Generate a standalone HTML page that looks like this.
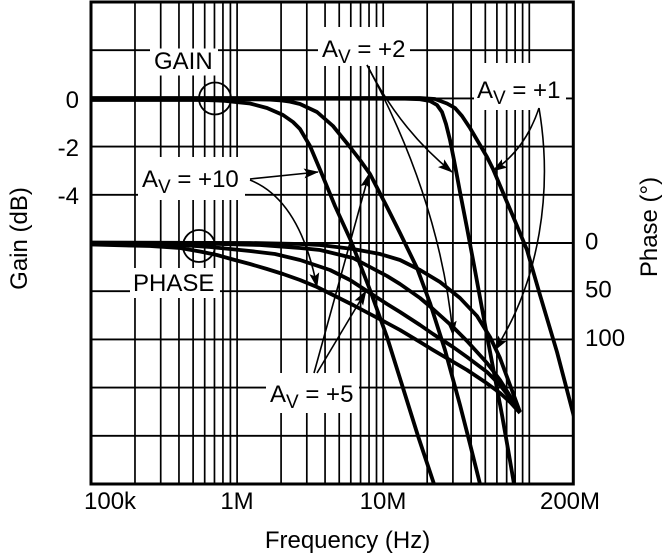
<!DOCTYPE html>
<html>
<head>
<meta charset="utf-8">
<style>
html,body{margin:0;padding:0;background:#fff;overflow:hidden;}
svg{display:block;}
text{font-family:"Liberation Sans",Arial,sans-serif;fill:#000;}
</style>
</head>
<body>
<svg width="666" height="556" viewBox="0 0 666 556" xmlns="http://www.w3.org/2000/svg">
<defs>
<marker id="ah" markerWidth="15" markerHeight="10" refX="14" refY="5" orient="auto" markerUnits="userSpaceOnUse">
<path d="M0,0 L15,5 L0,10 L3,5 z" fill="#000"/>
</marker>
<clipPath id="pc"><rect x="91" y="2" width="482.3" height="482"/></clipPath>
</defs>
<rect width="666" height="556" fill="#fff"/>

<!-- vertical grid -->
<g stroke="#000" stroke-width="1.7">
<line x1="134.98" y1="2" x2="134.98" y2="484"/>
<line x1="160.71" y1="2" x2="160.71" y2="484"/>
<line x1="178.96" y1="2" x2="178.96" y2="484"/>
<line x1="193.12" y1="2" x2="193.12" y2="484"/>
<line x1="204.69" y1="2" x2="204.69" y2="484"/>
<line x1="214.47" y1="2" x2="214.47" y2="484"/>
<line x1="222.94" y1="2" x2="222.94" y2="484"/>
<line x1="230.41" y1="2" x2="230.41" y2="484"/>
<line x1="237.1" y1="2" x2="237.1" y2="484"/>
<line x1="281.08" y1="2" x2="281.08" y2="484"/>
<line x1="306.81" y1="2" x2="306.81" y2="484"/>
<line x1="325.06" y1="2" x2="325.06" y2="484"/>
<line x1="339.22" y1="2" x2="339.22" y2="484"/>
<line x1="350.79" y1="2" x2="350.79" y2="484"/>
<line x1="360.57" y1="2" x2="360.57" y2="484"/>
<line x1="369.04" y1="2" x2="369.04" y2="484"/>
<line x1="376.51" y1="2" x2="376.51" y2="484"/>
<line x1="383.2" y1="2" x2="383.2" y2="484"/>
<line x1="427.18" y1="2" x2="427.18" y2="484"/>
<line x1="452.91" y1="2" x2="452.91" y2="484"/>
<line x1="471.16" y1="2" x2="471.16" y2="484"/>
<line x1="485.32" y1="2" x2="485.32" y2="484"/>
<line x1="496.89" y1="2" x2="496.89" y2="484"/>
<line x1="506.67" y1="2" x2="506.67" y2="484"/>
<line x1="515.14" y1="2" x2="515.14" y2="484"/>
<line x1="522.61" y1="2" x2="522.61" y2="484"/>
<line x1="529.3" y1="2" x2="529.3" y2="484"/>
</g>
<!-- horizontal grid -->
<g stroke="#000" stroke-width="1.9">
<line x1="91" y1="50.2" x2="573.3" y2="50.2"/>
<line x1="91" y1="98.4" x2="573.3" y2="98.4"/>
<line x1="91" y1="146.6" x2="573.3" y2="146.6"/>
<line x1="91" y1="194.8" x2="573.3" y2="194.8"/>
<line x1="91" y1="243" x2="573.3" y2="243"/>
<line x1="91" y1="291.2" x2="573.3" y2="291.2"/>
<line x1="91" y1="339.4" x2="573.3" y2="339.4"/>
<line x1="91" y1="387.6" x2="573.3" y2="387.6"/>
<line x1="91" y1="435.8" x2="573.3" y2="435.8"/>
</g>

<!-- label boxes (white) -->
<g fill="#fff">
<rect x="150" y="48.5" width="68" height="27"/>
<rect x="130" y="268" width="90" height="30"/>
<rect x="318" y="27" width="92" height="39"/>
<rect x="474" y="63" width="92" height="47"/>
<rect x="138" y="157" width="107" height="43"/>
<rect x="266" y="373" width="93" height="40"/>
</g>

<!-- frame -->
<rect x="91" y="2" width="482.3" height="482" fill="none" stroke="#000" stroke-width="3"/>

<!-- curves -->
<g clip-path="url(#pc)" fill="none" stroke="#000" stroke-width="3.8" stroke-linejoin="round">
<polyline points="91,98 420,98 435,99 447,103.5 455,108 462,116 470,128 480,145 487,157 493,169 504,195 515,221 527,250 540,295 557,352 573,413 580,440"/>
<polyline points="91,98.7 405,98.7 420,99.2 430,101 437,105 442,112 446,124 450,140 454,160 460,192 467,228 474,265 481,303 488,341 495,378 502,415 508,449 514,484 516,495"/>
<polyline points="91,99.3 255,99.3 270,99.6 280,100.3 290,101.6 300,104 317,112 333,126 350,147 360,160 370,174 387,207 400,233 417,268 430,303 445,350 460,405 470,444 480,484 483,496"/>
<polyline points="91,100 200,100 215,100.3 225,100.8 232,101.6 250,103.5 267,108 283,115 293,122 300,129 310,146 321,172 335,206 351,241 370,290 387,337 403,388 418,436 434,484 438,496"/>
<polyline points="91,242.5 250,243 300,244 320,245 353,249 380,254 400,260 420,270 440,282 460,298 477,316 490,337 500,358 510,385 520,412"/>
<polyline points="91,243 200,243.5 260,245 300,248 320,250 353,258 387,276 400,284 420,298 433,309 453,327 467,341 487,363 500,380 510,396 520,412"/>
<polyline points="91,243.5 180,245 210,247 250,251 275,254 300,260 330,270 350,280 370,293 387,304 400,312 420,325 433,334 453,347 467,357 487,372 500,385 510,398 520,412"/>
<polyline points="91,244.5 150,246 180,248 200,251.5 217,255 233,259.5 250,264 267,269 283,274 300,280 317,287 333,295 353,305 370,314 387,323 400,330 420,342 433,350 450,360 467,370 485,382 500,393 510,402 520,413"/>
</g>

<!-- circles -->
<circle cx="215" cy="98.5" r="16" fill="none" stroke="#000" stroke-width="1.8"/>
<circle cx="199" cy="246" r="16" fill="none" stroke="#000" stroke-width="1.8"/>

<!-- arrows -->
<g fill="none" stroke="#000" stroke-width="1.6" marker-end="url(#ah)">
<path d="M250,179 L318,172"/>
<path d="M250,180 Q300,200 317,287"/>
<path d="M314,373 L369,174"/>
<path d="M317,373 L366,291"/>
<path d="M367,65 Q400,130 452,172"/>
<path d="M367,65 Q440,200 453,335"/>
<path d="M539,108 Q525,150 493,171"/>
<path d="M539,108 C553,190 540,280 495,350"/>
</g>

<!-- annotation labels -->
<g font-size="24">
<text x="154" y="69">GAIN</text>
<text x="133" y="291">PHASE</text>
<text x="322" y="57">A<tspan font-size="19" dy="6">V</tspan><tspan dy="-6"> = +2</tspan></text>
<text x="477" y="98">A<tspan font-size="19" dy="6">V</tspan><tspan dy="-6"> = +1</tspan></text>
<text x="142" y="187">A<tspan font-size="19" dy="6">V</tspan><tspan dy="-6"> = +10</tspan></text>
<text x="270" y="402">A<tspan font-size="19" dy="6">V</tspan><tspan dy="-6"> = +5</tspan></text>
</g>

<!-- tick labels -->
<g font-size="24">
<text x="79" y="108" text-anchor="end">0</text>
<text x="79" y="156" text-anchor="end">-2</text>
<text x="79" y="204" text-anchor="end">-4</text>
<text x="585" y="249.5">0</text>
<text x="585" y="297.5">50</text>
<text x="585" y="346">100</text>
<text x="84" y="509">100k</text>
<text x="237" y="509" text-anchor="middle">1M</text>
<text x="383" y="509" text-anchor="middle">10M</text>
<text x="570" y="509" text-anchor="middle">200M</text>
<text x="347.5" y="548" text-anchor="middle">Frequency (Hz)</text>
<text transform="translate(27,238.5) rotate(-90)" text-anchor="middle">Gain (dB)</text>
<text transform="translate(657,227) rotate(-90)" text-anchor="middle">Phase (°)</text>
</g>
</svg>
</body>
</html>
